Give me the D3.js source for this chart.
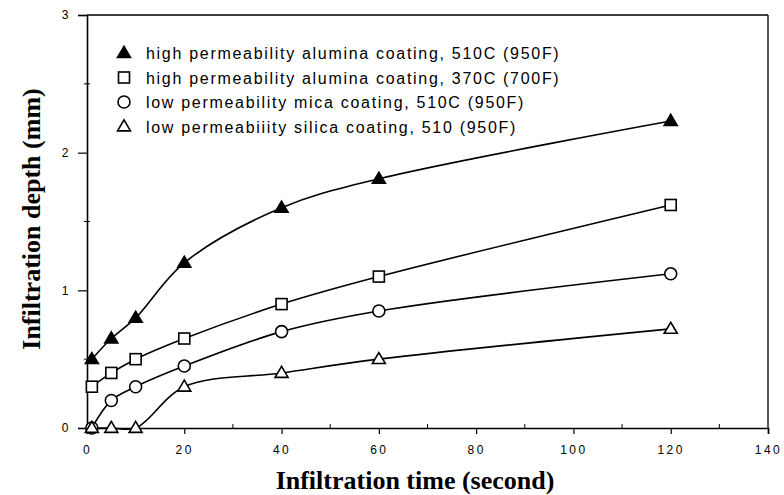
<!DOCTYPE html>
<html><head><meta charset="utf-8">
<script src="https://cdn.jsdelivr.net/npm/d3@7"></script>
<style>body{margin:0;background:#fff}svg{display:block}</style>
</head><body><svg id="c" width="784" height="495"></svg>
<script>
const times = [1, 5, 10, 20, 40, 60, 120];
const seriesNames = [
  "high permeability alumina coating, 510C (950F)",
  "high permeability alumina coating, 370C (700F)",
  "low permeability mica coating, 510C (950F)",
  "low permeabiiity silica coating, 510 (950F)"
];
const aluminaHigh510 = [0.5, 0.65, 0.8, 1.2, 1.6, 1.81, 2.23];
const aluminaHigh370 = [0.3, 0.4, 0.5, 0.65, 0.9, 1.1, 1.62];
const mica510 = [0, 0.2, 0.3, 0.45, 0.7, 0.85, 1.12];
const silica510 = [0, 0, 0, 0.3, 0.4, 0.5, 0.72];
const markerTypes = ["triFilled", "square", "circle", "triOpen"];
const xTicks = [0, 20, 40, 60, 80, 100, 120, 140];
const yTicks = [0, 1, 2, 3];
const xLabel = "Infiltration time (second)";
const yLabel = "Infiltration depth (mm)";

const allSeries = [aluminaHigh510, aluminaHigh370, mica510, silica510];
const svg = d3.select("#c");
const x = d3.scaleLinear().domain([0, 140]).range([87, 768]);
const y = d3.scaleLinear().domain([0, 3]).range([428, 15]);

// frame
svg.append("line").attr("x1", x(0)).attr("x2", x(140)).attr("y1", y(3)).attr("y2", y(3)).attr("stroke", "#000").attr("stroke-width", 1.6);
svg.append("line").attr("x1", x(140)).attr("x2", x(140)).attr("y1", y(3)).attr("y2", y(0)).attr("stroke", "#000").attr("stroke-width", 1.3);

const xa = svg.append("g").attr("transform", `translate(0,${y(0)})`)
  .call(d3.axisBottom(x).tickValues(xTicks).tickSize(6).tickPadding(11).tickFormat(d => String(d)));
const ya = svg.append("g").attr("transform", `translate(${x(0)},0)`)
  .call(d3.axisLeft(y).tickValues(yTicks).tickSize(9).tickPadding(7).tickFormat(d => String(d)));
[xa, ya].forEach(a => {
  a.select(".domain").attr("stroke", "#000").attr("stroke-width", 1.6);
  a.selectAll(".tick line").attr("stroke", "#000").attr("stroke-width", 1.2);
  a.selectAll("text").attr("font-family", "Liberation Sans, Arial, sans-serif").attr("font-size", 12).attr("fill", "#000").attr("letter-spacing", "2.5px");
});
// minor ticks
const xMinor = d3.range(10, 140, 20);
svg.append("g").selectAll("line").data(xMinor).join("line")
  .attr("x1", d => x(d)).attr("x2", d => x(d)).attr("y1", y(0)).attr("y2", y(0) - 4)
  .attr("stroke", "#000").attr("stroke-width", 1);
const yMinor = [0.5, 1.5, 2.5];
svg.append("g").selectAll("line").data(yMinor).join("line")
  .attr("x1", x(0) - 3).attr("x2", x(0) + 3).attr("y1", d => y(d)).attr("y2", d => y(d))
  .attr("stroke", "#000").attr("stroke-width", 1);

// lines
const line = d3.line().x(d => x(d[0])).y(d => y(d[1])).curve(d3.curveCatmullRom.alpha(0.5));
allSeries.forEach(s => {
  svg.append("path").datum(times.map((t, i) => [t, s[i]]))
    .attr("d", line).attr("fill", "none").attr("stroke", "#000").attr("stroke-width", 1.6);
});

function marker(g, type, cx, cy) {
  if (type === "triFilled" || type === "triOpen") {
    const h = 11, w = 13;
    g.append("path").attr("d", `M${cx},${cy - h * 0.6}L${cx + w / 2},${cy + h * 0.4}L${cx - w / 2},${cy + h * 0.4}Z`)
      .attr("fill", type === "triFilled" ? "#000" : "#fff").attr("stroke", "#000").attr("stroke-width", 1.6);
  } else if (type === "square") {
    const s = 11;
    g.append("rect").attr("x", cx - s / 2).attr("y", cy - s / 2).attr("width", s).attr("height", s)
      .attr("fill", "#fff").attr("stroke", "#000").attr("stroke-width", 1.6);
  } else {
    g.append("circle").attr("cx", cx).attr("cy", cy).attr("r", 6)
      .attr("fill", "#fff").attr("stroke", "#000").attr("stroke-width", 1.6);
  }
}
const mg = svg.append("g");
allSeries.forEach((s, k) => {
  times.forEach((t, i) => marker(mg, markerTypes[k], x(t), y(s[i])));
});

// legend
const lg = svg.append("g");
seriesNames.forEach((n, k) => {
  const ly = 53 + k * 24.5;
  marker(lg, markerTypes[k], 124, ly);
  lg.append("text").attr("x", 146).attr("y", ly + 6).text(n)
    .attr("font-family", "Liberation Sans, Arial, sans-serif").attr("font-size", 16).attr("letter-spacing", "1.7px").attr("fill", "#000");
});

// axis titles
svg.append("text").attr("x", 415).attr("y", 489).attr("text-anchor", "middle").text(xLabel)
  .attr("font-family", "Liberation Serif, Times New Roman, serif").attr("font-size", 26).attr("font-weight", "bold");
svg.append("text").attr("transform", `translate(40,219) rotate(-90)`).attr("text-anchor", "middle").text(yLabel)
  .attr("font-family", "Liberation Serif, Times New Roman, serif").attr("font-size", 26).attr("font-weight", "bold");
</script></body></html>
